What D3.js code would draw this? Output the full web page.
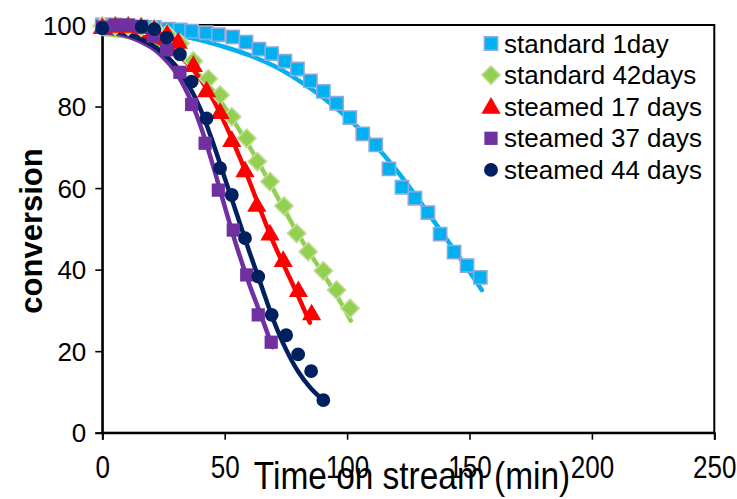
<!DOCTYPE html>
<html>
<head>
<meta charset="utf-8">
<script src="https://cdn.jsdelivr.net/npm/d3@7"></script>
<style>
  html, body { margin: 0; padding: 0; background: #fff; }
  svg { display: block; }
  text { font-family: "Liberation Sans", Arial, sans-serif; fill: #000; }
</style>
</head>
<body>
<div id="chart"></div>
<script>
// ---------- data ----------
const seriesNames = ["standard 1day", "standard 42days", "steamed 17 days", "steamed 37 days", "steamed 44 days"];

// measured points (time on stream, min / conversion)
const std1Time = [0, 5.3, 10.6, 15.9, 21.2, 27.0, 31.8, 36.5, 42.4, 47.4, 53.3, 58.7, 64.0, 69.2, 74.6, 79.7, 85.0, 90.3, 95.7, 101.1, 106.4, 111.7, 117.1, 122.4, 127.7, 133.0, 138.0, 143.7, 149.0, 154.4];
const std1Conv = [100, 100, 99.8, 99.6, 99.4, 99.0, 98.8, 98.5, 98.1, 97.6, 97.1, 95.8, 94.1, 93.0, 91.1, 89.2, 86.3, 83.7, 80.8, 77.3, 73.3, 70.6, 64.7, 60.2, 57.5, 54.0, 48.7, 44.3, 41.0, 38.1];

const std42Time = [0, 5.3, 10.6, 15.9, 21.2, 26.5, 31.8, 37.2, 43.3, 48.1, 52.9, 59.0, 63.3, 68.5, 74.2, 79.4, 84.1, 90.3, 95.7, 101.2];
const std42Conv = [99.8, 99.8, 99.7, 99.5, 99.0, 97.8, 95.5, 91.2, 86.8, 82.8, 77.5, 72.2, 66.5, 61.6, 55.6, 48.9, 44.4, 39.7, 35.0, 30.5];

const st17Time = [0, 5.3, 10.6, 15.9, 21.2, 26.5, 31.0, 37.2, 42.6, 48.1, 52.9, 58.3, 63.1, 68.5, 73.9, 80.1, 85.5];
const st17Conv = [99.5, 99.8, 99.8, 99.6, 99.0, 97.8, 95.9, 90.2, 84.0, 78.7, 71.8, 64.4, 55.9, 48.9, 42.4, 35.0, 29.3];

const st37Time = [0, 5.3, 10.6, 15.9, 20.8, 26.3, 31.7, 36.5, 42.0, 47.4, 53.5, 59.0, 63.7, 69.0];
const st37Conv = [99.5, 100, 100, 99.6, 97.3, 93.9, 88.4, 80.5, 71.0, 59.5, 49.7, 38.7, 28.9, 22.2];

const st44Time = [0, 16.1, 21.2, 26.3, 31.7, 36.5, 42.6, 48.1, 52.9, 58.3, 63.7, 69.2, 75.1, 80.0, 85.3, 90.3];
const st44Conv = [99.2, 99.6, 99.0, 96.9, 92.8, 86.1, 77.1, 64.9, 58.3, 47.7, 38.3, 28.9, 23.9, 19.2, 15.1, 8.0];

// fitted curves
const fit1Time = [0, 10, 20, 30, 40, 50, 60, 70, 80, 90, 100, 110, 120, 130, 140, 150, 155];
const fit1Conv = [99.6, 99.3, 98.6, 97.6, 96.3, 94.6, 92.6, 90.0, 86.5, 82.3, 77.3, 71.5, 64.5, 56.5, 48.0, 39.5, 35.0];

const fit2Time = [0, 10, 20, 30, 35, 40, 45, 50, 55, 60, 65, 70, 75, 80, 85, 90, 95, 101.5];
const fit2Conv = [97.8, 97.2, 95.8, 93.0, 90.5, 87.5, 84.0, 79.8, 75.2, 70.3, 65.0, 59.5, 54.0, 48.7, 43.8, 39.2, 34.4, 27.5];

const fit3Time = [0, 10, 20, 30, 35, 40, 45, 50, 55, 60, 65, 70, 75, 80, 84.8];
const fit3Conv = [98.3, 97.8, 96.5, 93.3, 90.5, 86.8, 82.0, 76.0, 69.2, 61.8, 54.0, 46.5, 40.0, 33.5, 27.0];

const fit4Time = [0, 10, 20, 25, 30, 35, 40, 45, 50, 55, 60, 65, 69.5];
const fit4Conv = [98.3, 97.3, 94.5, 92.0, 88.5, 83.0, 75.5, 66.0, 55.5, 45.5, 36.5, 28.5, 21.0];

const fit5Time = [0, 10, 20, 25, 30, 35, 40, 45, 50, 55, 60, 65, 70, 75, 80, 85, 91];
const fit5Conv = [98.5, 97.8, 95.2, 93.0, 90.0, 85.5, 79.5, 71.5, 62.5, 53.5, 44.5, 36.0, 27.5, 20.5, 15.0, 11.0, 7.5];

const xTicks = [0, 50, 100, 150, 200, 250];
const yTicks = [0, 20, 40, 60, 80, 100];

// ---------- styles ----------
const colors = ["#00B0F0", "#92D050", "#FF0000", "#7030A0", "#002060"];
const strokes = ["#8EA9DB", "#C4DC9E", "none", "none", "none"];
const symbols = [d3.symbolSquare, d3.symbolSquare, d3.symbolTriangle, d3.symbolSquare, d3.symbolCircle];
const symSizes = [175, 170, 160, 175, 150];
const symRot = [0, 45, 0, 0, 0];
const symDy = [0, 0, 1.5, 0, 0];

const W = 737, H = 499;
const svg = d3.select("#chart").append("svg").attr("width", W).attr("height", H);

const x = d3.scaleLinear().domain([0, 250]).range([102.3, 714.3]);
const y = d3.scaleLinear().domain([0, 100]).range([432.7, 25]);

// frame
svg.append("rect")
  .attr("x", x(0)).attr("y", y(100))
  .attr("width", x(250) - x(0)).attr("height", y(0) - y(100))
  .attr("fill", "none").attr("stroke", "#000").attr("stroke-width", 2);

// axes
const xAxis = svg.append("g").attr("transform", `translate(0,${y(0)})`)
  .call(d3.axisBottom(x).tickValues(xTicks).tickSize(7).tickPadding(6).tickFormat(d3.format("d")));
const yAxis = svg.append("g").attr("transform", `translate(${x(0)},0)`)
  .call(d3.axisLeft(y).tickValues(yTicks).tickSize(7).tickPadding(9).tickFormat(d3.format("d")));
[xAxis, yAxis].forEach(g => {
  g.select(".domain").attr("stroke", "#000").attr("stroke-width", 2);
  g.selectAll(".tick line").attr("stroke", "#000").attr("stroke-width", 1.6);
  g.selectAll(".tick text").style("font-family", "Liberation Sans, Arial, sans-serif").attr("fill", "#000");
});
yAxis.selectAll(".tick text").style("font-size", "26px").attr("dy", "0.35em");
// x tick labels: tall, slightly condensed as in the reference
xAxis.selectAll(".tick text")
  .style("font-size", "31px")
  .attr("dy", null).attr("y", null)
  .attr("transform", "translate(0,45) scale(0.84,1)");

// fitted lines
const fits = [[fit1Time, fit1Conv], [fit2Time, fit2Conv], [fit3Time, fit3Conv], [fit4Time, fit4Conv], [fit5Time, fit5Conv]];
const line = d3.line().x(d => x(d[0])).y(d => y(d[1])).curve(d3.curveCatmullRom.alpha(0.5));
fits.forEach((f, i) => {
  const pts = f[0].map((t, k) => [t, f[1][k]]);
  svg.append("path").datum(pts)
    .attr("d", line)
    .attr("fill", "none")
    .attr("stroke", colors[i])
    .attr("stroke-width", 4.5)
    .attr("stroke-linecap", "round")
    .attr("stroke-linejoin", "round");
});

// markers
const meas = [[std1Time, std1Conv], [std42Time, std42Conv], [st17Time, st17Conv], [st37Time, st37Conv], [st44Time, st44Conv]];
meas.forEach((m, i) => {
  const pts = m[0].map((t, k) => [t, m[1][k]]);
  const sym = d3.symbol().type(symbols[i]).size(symSizes[i]);
  svg.append("g").selectAll("path").data(pts).join("path")
    .attr("transform", d => `translate(${x(d[0])},${y(d[1]) + symDy[i]}) rotate(${symRot[i]})`)
    .attr("d", sym)
    .attr("fill", colors[i])
    .attr("stroke", strokes[i])
    .attr("stroke-width", strokes[i] === "none" ? 0 : 1.6);
});

// legend
const legend = svg.append("g");
seriesNames.forEach((name, i) => {
  const cy = 43.5 + i * 31.6;
  legend.append("path")
    .attr("transform", `translate(491,${cy + symDy[i]}) rotate(${symRot[i]})`)
    .attr("d", d3.symbol().type(symbols[i]).size(symSizes[i])())
    .attr("fill", colors[i])
    .attr("stroke", strokes[i])
    .attr("stroke-width", strokes[i] === "none" ? 0 : 1.6);
  legend.append("text")
    .attr("x", 504).attr("y", cy).attr("dy", "0.35em")
    .style("font-size", "26px")
    .text(name);
});

// axis titles
svg.append("text")
  .attr("transform", "translate(412,489) scale(0.88,1)")
  .attr("text-anchor", "middle")
  .style("font-size", "38px")
  .text("Time on stream (min)");

svg.append("text")
  .attr("transform", `translate(42,231) rotate(-90)`)
  .attr("text-anchor", "middle")
  .style("font-size", "31px")
  .style("font-weight", "bold")
  .text("conversion");
</script>
</body>
</html>
